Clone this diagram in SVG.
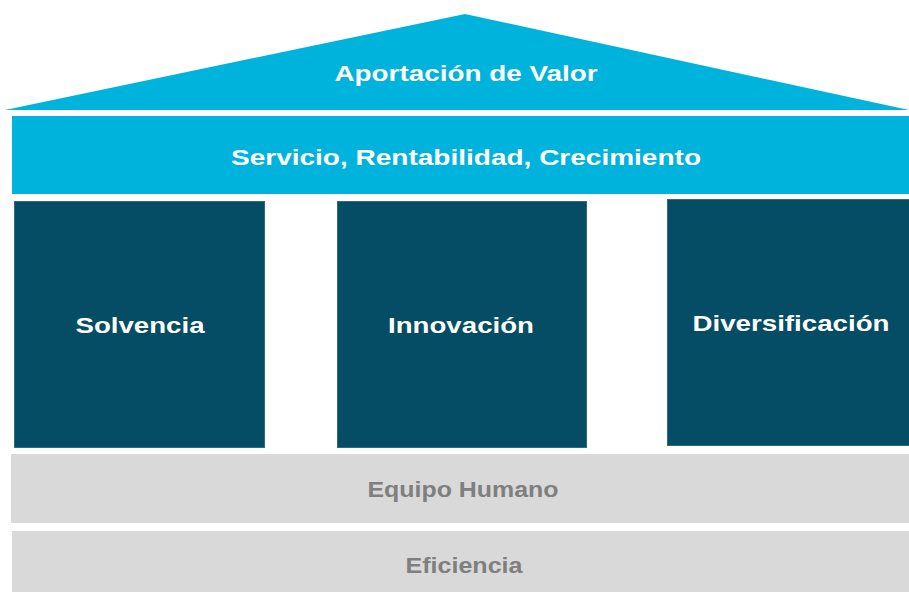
<svg xmlns="http://www.w3.org/2000/svg" width="909" height="592" viewBox="0 0 909 592">
<style>
.cyan{fill:#00B3DC}
.pillar{fill:#044D64;stroke:#2f6b80;stroke-width:1}
.gray{fill:#D9D9D9}
.t{font-family:"Liberation Sans",Arial,sans-serif;font-weight:bold;font-size:22px;text-anchor:middle;dominant-baseline:central}
.w{fill:#ffffff}
.g{fill:#7F7F7F}
</style>
<rect width="909" height="592" fill="#ffffff"/>
<g id="roof">
<polygon class="cyan" points="5,110 465,14 909,110"/>
<text class="t w" x="466" y="73" textLength="263" lengthAdjust="spacingAndGlyphs">Aportación de Valor</text>
</g>
<g id="band">
<rect class="cyan" x="12" y="116" width="897" height="78"/>
<text class="t w" x="466" y="157" textLength="470" lengthAdjust="spacingAndGlyphs">Servicio, Rentabilidad, Crecimiento</text>
</g>
<g id="solvencia">
<rect class="pillar" x="14.5" y="201.5" width="250" height="246"/>
<text class="t w" x="140" y="325" textLength="129" lengthAdjust="spacingAndGlyphs">Solvencia</text>
</g>
<g id="innovacion">
<rect class="pillar" x="337.5" y="201.5" width="249" height="246"/>
<text class="t w" x="461" y="325" textLength="146" lengthAdjust="spacingAndGlyphs">Innovación</text>
</g>
<g id="diversificacion">
<rect class="pillar" x="667.5" y="199.5" width="242" height="246"/>
<text class="t w" x="791" y="323" textLength="197" lengthAdjust="spacingAndGlyphs">Diversificación</text>
</g>
<g id="equipo">
<rect class="gray" x="11" y="454" width="898" height="69"/>
<text class="t g" x="463" y="489" textLength="191" lengthAdjust="spacingAndGlyphs">Equipo Humano</text>
</g>
<g id="eficiencia">
<rect class="gray" x="12" y="531" width="897" height="61"/>
<text class="t g" x="464" y="565" textLength="117" lengthAdjust="spacingAndGlyphs">Eficiencia</text>
</g>
<g id="connectors"></g>
</svg>
